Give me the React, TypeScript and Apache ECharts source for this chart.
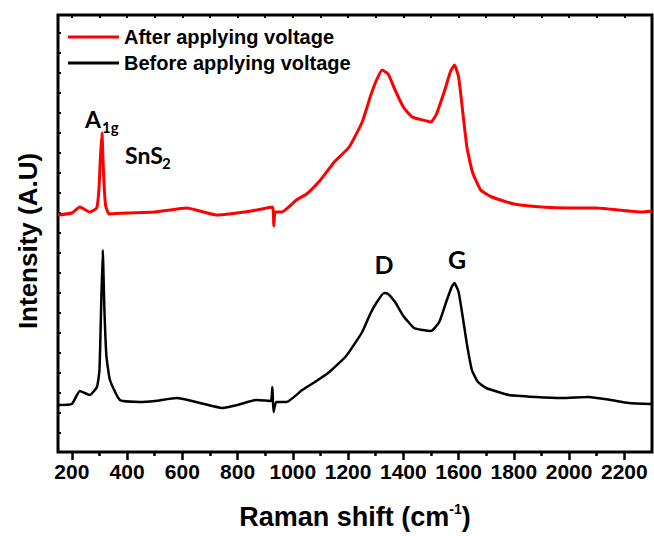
import React, { useEffect, useRef } from "react";
import * as echarts from "echarts";

// Raman shift (cm^-1) and intensity (arbitrary units)
const beforeShift = [150, 200, 229, 265, 291, 300, 305, 312, 318, 325, 338, 374, 446, 500, 580, 650, 746, 800, 868, 920, 926, 930, 940, 977, 1034, 1080, 1132, 1193, 1251, 1280, 1302, 1330, 1345, 1370, 1400, 1439, 1470, 1500, 1530, 1555, 1575, 1585, 1600, 1615, 1630, 1648, 1670, 1700, 1782, 1880, 1973, 2071, 2150, 2215, 2300];
const beforeIntensity = [47, 48, 61, 57, 65, 82, 132, 202, 142, 97, 72, 52, 50, 51, 54, 50, 44, 47, 52, 51, 65, 40, 50, 50, 62, 70, 80, 96, 120, 138, 149, 159, 158, 150, 136, 124, 122, 121, 130, 150, 165, 169, 160, 135, 108, 82, 70, 64, 57, 55, 54, 55, 52, 49, 48];

const afterShift = [150, 200, 229, 265, 290, 298, 303, 309, 315, 322, 335, 400, 500, 616, 724, 850, 926, 931, 936, 960, 1013, 1050, 1100, 1150, 1204, 1251, 1280, 1300, 1323, 1345, 1370, 1400, 1432, 1470, 1500, 1520, 1550, 1570, 1585, 1600, 1615, 1630, 1650, 1680, 1720, 1800, 1900, 2000, 2096, 2262, 2300];
const afterIntensity = [237, 239, 245, 240, 244, 262, 292, 319, 277, 247, 238, 239, 240, 244, 237, 241, 245, 226, 240, 240, 252, 258, 272, 290, 305, 330, 355, 370, 382, 378, 362, 345, 335, 332, 330, 338, 362, 380, 387, 375, 340, 305, 280, 262, 255, 248, 245, 244, 244, 240, 241];

const seriesNames = ["After applying voltage", "Before applying voltage"];
const shiftTicks = [200, 400, 600, 800, 1000, 1200, 1400, 1600, 1800, 2000, 2200];
const minorShiftTicks = [300, 500, 700, 900, 1100, 1300, 1500, 1700, 1900, 2100];
const intensityTicks = [19, 39, 59, 79, 99, 119, 139, 159, 179, 199, 219, 239, 259, 279, 299, 319, 339, 359, 379, 399, 419];

const SANS = "'Liberation Sans', Arial, sans-serif";
const CAL = "Lato, 'Open Sans', sans-serif";

export default function App() {
  const ref = useRef<HTMLDivElement>(null);
  useEffect(() => {
    if (!ref.current) return;
    const chart = echarts.init(ref.current, null, { renderer: "svg" });
    const after = afterShift.map((x, i) => [x, afterIntensity[i]]);
    const before = beforeShift.map((x, i) => [x, beforeIntensity[i]]);
    const tickStyle = { color: "#000", width: 2.5 };
    const hiddenLabel = { show: false };
    chart.setOption({
      animation: false,
      grid: { left: 58, right: 2, top: 15, bottom: 84, show: true, borderColor: "#000", borderWidth: 3 },
      legend: {
        data: seriesNames,
        orient: "vertical",
        left: 68,
        top: 24,
        padding: 0,
        icon: "rect",
        itemWidth: 51,
        itemHeight: 3,
        itemGap: 0,
        textStyle: { fontFamily: SANS, fontWeight: "bold", fontSize: 20, color: "#000", lineHeight: 26 },
      },
      xAxis: [
        {
          type: "value", min: 150, max: 2300, position: "bottom",
          axisLine: { show: false }, splitLine: { show: false },
          axisTick: { show: true, length: 8, customValues: shiftTicks, lineStyle: tickStyle },
          axisLabel: {
            customValues: shiftTicks, margin: 9, color: "#000", fontFamily: SANS, fontWeight: "bold", fontSize: 21,
            hideOverlap: false, formatter: (v: number) => String(v),
          },
        },
        {
          type: "value", min: 150, max: 2300, position: "bottom",
          axisLine: { show: false }, splitLine: { show: false },
          axisTick: { show: true, length: 4, customValues: minorShiftTicks, lineStyle: tickStyle },
          axisLabel: hiddenLabel,
        },
        {
          type: "value", min: 150, max: 2300, position: "top",
          axisLine: { show: false }, splitLine: { show: false },
          axisTick: { show: true, inside: true, length: 3, customValues: [...shiftTicks, ...minorShiftTicks], lineStyle: { color: "#000", width: 2 } },
          axisLabel: hiddenLabel,
        },
      ],
      yAxis: [
        {
          type: "value", min: 0, max: 437,
          axisLine: { show: false }, splitLine: { show: false },
          axisTick: { show: true, inside: true, length: 3, customValues: intensityTicks, lineStyle: { color: "#000", width: 2 } },
          axisLabel: hiddenLabel,
        },
      ],
      series: [
        {
          type: "line", name: seriesNames[0], data: after, symbol: "none",
          smooth: 0.15,
          lineStyle: { color: "#ff0000", width: 3 }, itemStyle: { color: "#ff0000" },
        },
        {
          type: "line", name: seriesNames[1], data: before, symbol: "none",
          smooth: 0.15,
          lineStyle: { color: "#000000", width: 2.5 }, itemStyle: { color: "#000000" },
        },
      ],
      graphic: [
        { type: "text", x: 85, y: 119, style: { text: "A", fontFamily: CAL, fontWeight: "bold", fontSize: 23, fill: "#000", align: "left", verticalAlign: "middle" } },
        { type: "text", x: 102, y: 127, style: { text: "1g", fontFamily: CAL, fontWeight: "bold", fontSize: 15, fill: "#000", align: "left", verticalAlign: "middle" } },
        { type: "text", x: 125, y: 155, style: { text: "SnS", fontFamily: CAL, fontWeight: "bold", fontSize: 23, fill: "#000", align: "left", verticalAlign: "middle" } },
        { type: "text", x: 162, y: 163, style: { text: "2", fontFamily: CAL, fontWeight: "bold", fontSize: 15, fill: "#000", align: "left", verticalAlign: "middle" } },
        { type: "text", x: 384, y: 264, style: { text: "D", fontFamily: CAL, fontWeight: "bold", fontSize: 25, fill: "#000", align: "center", verticalAlign: "middle" } },
        { type: "text", x: 457, y: 259, style: { text: "G", fontFamily: CAL, fontWeight: "bold", fontSize: 25, fill: "#000", align: "center", verticalAlign: "middle" } },
        {
          type: "text", x: 28, y: 241, rotation: Math.PI / 2,
          style: { text: "Intensity (A.U)", fontFamily: SANS, fontWeight: "bold", fontSize: 26, fill: "#000", align: "center", verticalAlign: "middle" },
        },
        {
          type: "text", x: 355, y: 517,
          style: {
            text: "{a|Raman shift (cm}{s|-1}{a|)}",
            align: "center", verticalAlign: "middle",
            rich: {
              a: { fontFamily: SANS, fontWeight: "bold", fontSize: 27, lineHeight: 30, fill: "#000", color: "#000" },
              s: { fontFamily: SANS, fontWeight: "bold", fontSize: 14, lineHeight: 14, verticalAlign: "top", fill: "#000", color: "#000" },
            },
          },
        },
      ],
    });
    return () => chart.dispose();
  }, []);
  return <div ref={ref} style={{ position: "fixed", left: 0, top: 0, width: 654, height: 536, background: "#fff" }} />;
}
